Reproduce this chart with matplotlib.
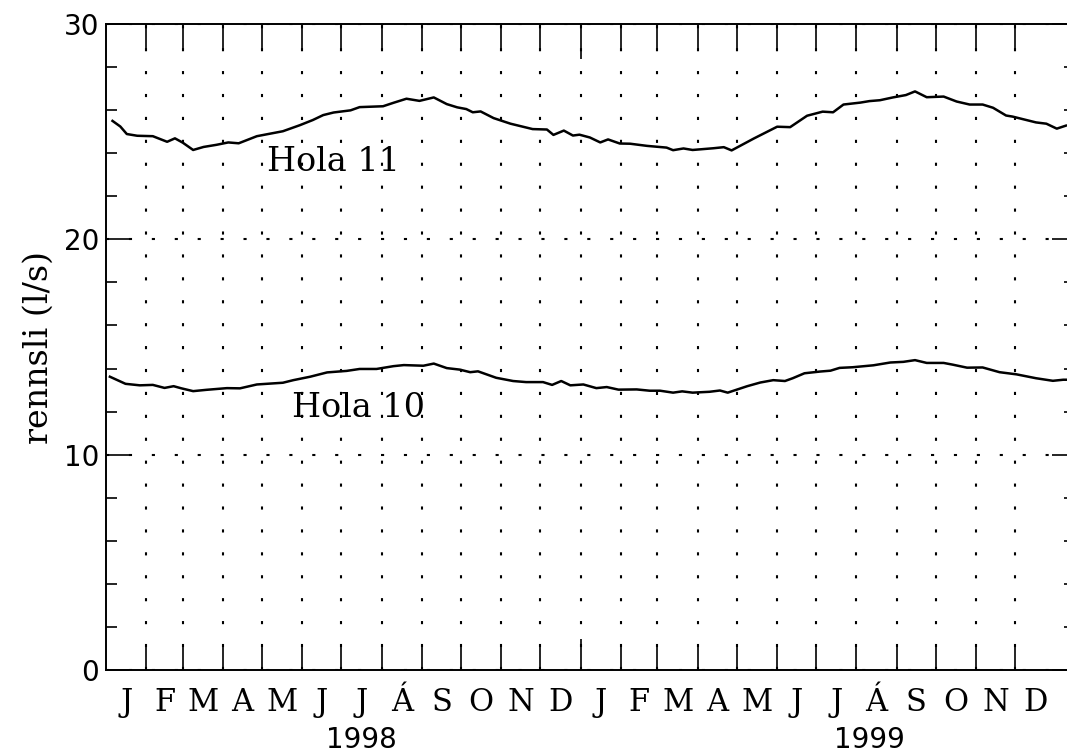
import numpy as np
import matplotlib
matplotlib.use("Agg")
import matplotlib.pyplot as plt
import matplotlib.transforms as mtransforms

# discharge, x = days since 1998-01-01
hola11_day = [5, 11, 16, 24, 36, 47, 53, 59, 67, 75, 85, 94, 102, 116, 136, 149,
              159, 167, 175, 188, 195, 213, 221, 231, 241, 252, 262, 270, 277,
              282, 288, 298, 311, 328, 339, 344, 352, 359, 364, 372, 380, 386,
              395, 403, 416, 431, 436, 444, 451, 467, 475, 481, 498, 516, 526,
              539, 551, 559, 567, 580, 587, 595, 605, 615, 622, 631, 644, 654,
              664, 674, 682, 692, 697, 715, 723, 731, 738]
hola11_q = [25.50, 25.24, 24.89, 24.81, 24.79, 24.53, 24.69, 24.49, 24.15, 24.29,
            24.39, 24.50, 24.46, 24.79, 25.02, 25.30, 25.54, 25.77, 25.89, 25.99,
            26.14, 26.18, 26.34, 26.53, 26.43, 26.59, 26.28, 26.13, 26.05, 25.90,
            25.94, 25.63, 25.37, 25.12, 25.10, 24.85, 25.05, 24.82, 24.86, 24.73,
            24.50, 24.64, 24.45, 24.44, 24.34, 24.26, 24.14, 24.22, 24.15, 24.23,
            24.28, 24.13, 24.68, 25.23, 25.21, 25.74, 25.93, 25.90, 26.26, 26.35,
            26.42, 26.46, 26.59, 26.70, 26.87, 26.60, 26.63, 26.40, 26.26, 26.26,
            26.11, 25.75, 25.70, 25.43, 25.37, 25.14, 25.28]

hola10_day = [3, 15, 26, 36, 45, 52, 58, 67, 77, 93, 103, 116, 136, 144, 157, 170,
              185, 195, 208, 221, 229, 244, 252, 262, 272, 280, 286, 300, 313,
              323, 336, 343, 350, 357, 367, 377, 385, 394, 408, 418, 426, 436,
              443, 451, 464, 472, 478, 493, 503, 513, 522, 528, 537, 549, 557,
              564, 574, 590, 603, 613, 622, 631, 644, 651, 662, 674, 687, 700,
              715, 728, 736, 739]
hola10_q = [13.62, 13.29, 13.22, 13.24, 13.10, 13.18, 13.08, 12.95, 13.01, 13.09,
            13.08, 13.26, 13.34, 13.46, 13.62, 13.82, 13.89, 13.98, 13.98, 14.11,
            14.16, 14.13, 14.23, 14.02, 13.95, 13.83, 13.87, 13.57, 13.42, 13.37,
            13.37, 13.24, 13.42, 13.22, 13.26, 13.09, 13.14, 13.02, 13.03, 12.97,
            12.97, 12.88, 12.94, 12.88, 12.92, 12.98, 12.88, 13.18, 13.35, 13.46,
            13.42, 13.55, 13.78, 13.86, 13.90, 14.03, 14.06, 14.15, 14.28, 14.31,
            14.39, 14.26, 14.26, 14.18, 14.04, 14.05, 13.83, 13.73, 13.55, 13.43,
            13.48, 13.48]

month_letters = ["J", "F", "M", "A", "M", "J", "J", "Á", "S", "O", "N", "D"]
years = ["1998", "1999"]
series_labels = ["Hola 11", "Hola 10"]

start = np.datetime64("1998-01-01")
month_starts = np.arange(np.datetime64("1998-01"), np.datetime64("2000-02"),
                         np.timedelta64(1, "M")).astype("datetime64[D]")
month_days = (month_starts - start).astype(int)

fig = plt.figure(figsize=(10.67, 7.55), dpi=100)
ax = fig.add_axes([106 / 1067, 85 / 755, 969 / 1067, 646 / 755])

ax.plot(hola11_day, hola11_q, color="black", lw=1.8)
ax.plot(hola10_day, hola10_q, color="black", lw=1.8)

ax.set_xlim(0, 745)
ax.set_ylim(0, 30)

# month boundaries as major ticks, month letters on minor ticks
ax.set_xticks(month_days[1:24])
ax.set_xticklabels([])
mid = (month_days[:24] + month_days[1:25]) / 2
ax.set_xticks(mid, minor=True)
ax.set_xticklabels(month_letters * 2, minor=True, family="DejaVu Serif",
                   fontsize=22)

ax.set_yticks([0, 10, 20, 30])
ax.set_yticklabels(["0", "10", "20", "30"], family="DejaVu Sans", fontsize=20)
ax.set_yticks(np.arange(2, 30, 2), minor=True)

ax.tick_params(axis="x", which="major", direction="in", top=True, bottom=True,
               length=18, width=1.2)
ax.tick_params(axis="x", which="minor", length=0, pad=12)
ax.tick_params(axis="y", which="major", direction="in", left=True, right=True,
               length=16.5, width=1.2, pad=5)
ax.tick_params(axis="y", which="minor", direction="in", left=True, right=True,
               length=8, width=1.2)

# longer tick at the new year
jan99 = list(month_days[1:24]).index(365)
t = ax.xaxis.get_major_ticks()[jan99]
t.tick1line.set_markersize(22)
t.tick2line.set_markersize(25)

ax.grid(True, which="major", color="black", lw=1.5, linestyle=(0, (1.5, 9.5)))

for sp in ax.spines.values():
    sp.set_linewidth(1.4)

ax.set_ylabel("rennsli (l/s)", family="DejaVu Serif", fontsize=24, labelpad=6)

ax.text(124, 23.6, series_labels[0], family="DejaVu Serif", fontsize=24,
        ha="left", va="center")
ax.text(143, 12.15, series_labels[1], family="DejaVu Serif", fontsize=24,
        ha="left", va="center")

trans = mtransforms.blended_transform_factory(ax.transData, ax.transAxes)
ax.text(196, -0.108, years[0], transform=trans, family="DejaVu Sans",
        fontsize=20, ha="center", va="center")
ax.text(587, -0.108, years[1], transform=trans, family="DejaVu Sans",
        fontsize=20, ha="center", va="center")

fig.savefig("out.png", dpi=100)
